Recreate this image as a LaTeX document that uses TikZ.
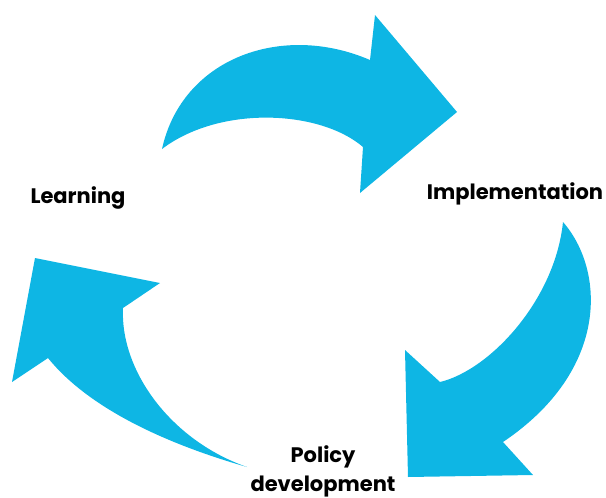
\documentclass[tikz,border=0pt]{standalone}
\usepackage{fontspec}
\setmainfont{Poppins}
\definecolor{arrowblue}{RGB}{14,182,228}
\begin{document}
\begin{tikzpicture}[x=1pt,y=-1pt,
  cyc/.style={fill=arrowblue,draw=none},
  lbl/.style={font=\fontsize{21}{30}\selectfont\bfseries,inner sep=0pt,anchor=base,align=center}]
\useasboundingbox (0,0) rectangle (606,498);
% top arrow
\path[cyc] (162,149) .. controls (182,58) and (282,22) .. (370,60) -- (375,15) -- (457,112) -- (360,193) -- (363,147) .. controls (320,110) and (220,105) .. (162,149) -- cycle;
% right arrow
\path[cyc] (563,222) .. controls (605,270) and (610,370) .. (503,442) -- (533,475) -- (408,477) -- (405,350) -- (440,382) .. controls (490,370) and (555,300) .. (563,222) -- cycle;
% left arrow
\path[cyc] (247,467) .. controls (170,445) and (90,410) .. (48,358) -- (12,382) -- (35,258) -- (160,283) -- (123,308) .. controls (120,370) and (170,440) .. (247,467) -- cycle;
\node[lbl] (learn) at (78,203) {Learning};
\node[lbl] (impl) at (515,199) {Implementation};
\node[lbl,font=\fontsize{21}{29}\selectfont\bfseries] (policy) at (323,491) {Policy\\development};
\end{tikzpicture}
\end{document}
